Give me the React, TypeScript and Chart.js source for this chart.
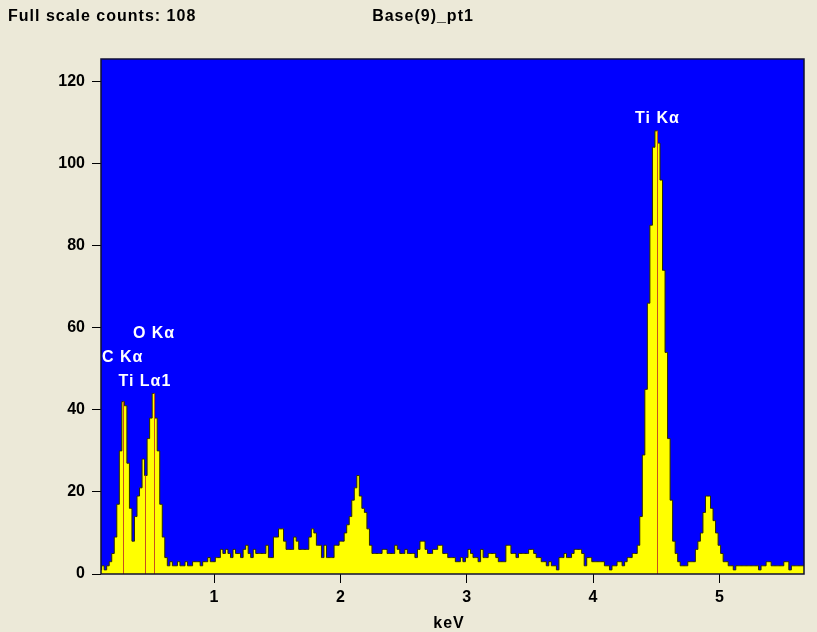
import React, { useEffect, useRef } from "react";
import { Chart, registerables } from "chart.js";

Chart.register(...registerables);

// ---- data ----
const spectrumTitle = "Base(9)_pt1";
const channelStartKeV = 0.1;
const channelWidthKeV = 0.02;
// counts per channel, 0.10 keV .. 5.68 keV
const counts = [
  1, 2, 1, 2, 3, 5, 9, 17, 30, 42, 41, 27, 16, 8, 14, 19, 21, 28, 24, 33,
  38, 44, 38, 30, 17, 9, 4, 2, 3, 2,
  2, 3, 2, 2, 3, 2, 2, 3, 3, 3, 2, 3, 3, 4, 3, 3, 4, 4, 6, 5,
  6, 5, 4, 6, 5, 5, 4, 6, 7, 5, 4, 6, 5,
  5, 5, 5, 7, 4, 4, 9, 9, 11, 11, 8, 6, 6, 6, 9, 8, 6, 6, 6, 6,
  9, 11, 10, 7, 7, 4, 7, 4, 4, 4, 7, 7,
  8, 8, 10, 12, 14, 18, 21, 24, 19, 16, 15, 11, 7, 5, 5, 5, 5, 6, 6, 5,
  5, 5, 7, 6, 5, 5, 6, 5, 5, 5, 4, 6, 8, 8, 6, 5, 5, 6, 6, 7,
  7, 5, 5, 4, 4, 4, 3, 3, 4, 3,
  4, 6, 5, 4, 4, 3, 6, 4, 4, 5, 5, 5, 4, 3, 3, 3, 7, 7, 5, 5,
  4, 5, 5, 5, 5, 6, 6, 5, 4, 4, 3, 3, 2, 3, 2, 2, 1, 4, 4, 5,
  4, 4, 5, 6, 6, 6, 5, 2, 4, 4,
  3, 3, 3, 3, 3, 2, 2, 1, 2, 2, 3, 3, 2, 3, 4, 4, 5, 5, 7, 14,
  29, 45, 66, 85, 104, 108, 105, 96, 74, 54, 33, 18, 8, 5, 3, 2, 2, 2, 3, 3,
  3, 6, 8, 10, 15, 19, 19, 16, 13, 10,
  7, 5, 3, 3, 2, 2, 1, 2, 2, 2, 2, 2, 2, 2, 2, 2, 1, 2, 2, 3,
  3, 2, 2, 2, 2, 2, 3, 3, 1, 2, 2, 2, 2, 2, 2,
];
const xTicks = [1, 2, 3, 4, 5];
const yTicks = [0, 20, 40, 60, 80, 100, 120];
const xRange = [0.105, 5.67];
const yRange = [0, 125.5];

const lineNames = ["C K\u03b1", "Ti L\u03b11", "O K\u03b1", "Ti K\u03b1"];
const lineEnergies = [0.277, 0.452, 0.525, 4.51];
const lineHeights = [42, 24, 44, 108];
const labelRows = [1, 0, 2, 0];

const FONT = "'Liberation Sans', Arial, sans-serif";
const BEIGE = "#ECE9D8";

const edsPlugin = {
  id: "eds",
  beforeDraw(chart: any) {
    const { ctx, chartArea: a, width, height } = chart;
    ctx.save();
    ctx.fillStyle = BEIGE;
    ctx.fillRect(0, 0, width, height);
    ctx.fillStyle = "#0000FF";
    ctx.fillRect(a.left, a.top, a.right - a.left, a.bottom - a.top);
    // header
    ctx.fillStyle = "#000";
    ctx.font = `bold 16px ${FONT}`;
    (ctx as any).letterSpacing = "1px";
    ctx.textBaseline = "middle";
    ctx.textAlign = "left";
    ctx.fillText("Full scale counts: " + Math.max(...counts), 8, 17);
    ctx.textAlign = "center";
    ctx.fillText(spectrumTitle, 423, 17);
    ctx.restore();
  },
  afterDatasetsDraw(chart: any) {
    const { ctx, chartArea: a, scales } = chart;
    const xs = scales.x;
    const ys = scales.y;
    ctx.save();
    // marker lines
    ctx.strokeStyle = "#C8501E";
    ctx.lineWidth = 1;
    lineEnergies.forEach((e, i) => {
      const px = Math.round(xs.getPixelForValue(e)) + 0.5;
      ctx.beginPath();
      ctx.moveTo(px, ys.getPixelForValue(0));
      ctx.lineTo(px, ys.getPixelForValue(lineHeights[i]));
      ctx.stroke();
    });
    // labels
    ctx.fillStyle = "#FFFFFF";
    ctx.font = `bold 16px ${FONT}`;
    (ctx as any).letterSpacing = "1px";
    ctx.textAlign = "center";
    ctx.textBaseline = "middle";
    lineEnergies.forEach((e, i) => {
      let base = 0;
      lineEnergies.forEach((e2, j) => {
        if (Math.abs(e2 - e) < 0.5) base = Math.max(base, lineHeights[j]);
      });
      const py = ys.getPixelForValue(base) - 12 - labelRows[i] * 24;
      ctx.fillText(lineNames[i], xs.getPixelForValue(e), py);
    });
    (ctx as any).letterSpacing = "0px";
    // border
    ctx.strokeStyle = "#101030";
    ctx.lineWidth = 1.5;
    ctx.strokeRect(a.left, a.top, a.right - a.left, a.bottom - a.top);
    ctx.restore();
  },
  afterDraw(chart: any) {
    const { ctx } = chart;
    ctx.save();
    ctx.fillStyle = "#000";
    ctx.font = `bold 16px ${FONT}`;
    (ctx as any).letterSpacing = "1px";
    ctx.textAlign = "center";
    ctx.textBaseline = "middle";
    ctx.fillText("keV", chart.scales.x.getPixelForValue(2.86), 624);
    ctx.restore();
  },
};

export default function App() {
  const ref = useRef<HTMLCanvasElement | null>(null);
  useEffect(() => {
    document.body.style.margin = "0";
    document.body.style.background = BEIGE;
    const canvas = ref.current!;
    const points = counts.map((c, i) => ({
      x: channelStartKeV + i * channelWidthKeV,
      y: c,
    }));
    const tickFont = { family: FONT, size: 16, weight: "bold" as const };
    const chart = new Chart(canvas, {
      type: "line",
      data: {
        datasets: [
          {
            data: points,
            stepped: "middle",
            fill: "origin",
            backgroundColor: "#FFFF00",
            borderColor: "#2a2a00",
            borderWidth: 1,
            pointRadius: 0,
          },
        ],
      },
      options: {
        animation: false,
        responsive: false,
        devicePixelRatio: 1,
        events: [],
        layout: { padding: { left: 0, top: 59, right: 13, bottom: 0 } },
        plugins: { legend: { display: false }, tooltip: { enabled: false } },
        scales: {
          x: {
            type: "linear",
            min: xRange[0],
            max: xRange[1],
            afterFit: (s: any) => {
              s.height = 58;
            },
            afterBuildTicks: (s: any) => {
              s.ticks = xTicks.map((v) => ({ value: v }));
            },
            grid: {
              display: true,
              drawOnChartArea: false,
              drawTicks: true,
              tickLength: 9,
              tickColor: "#000",
              color: "#000",
            },
            border: { display: false },
            ticks: {
              color: "#000",
              font: tickFont,
              padding: 5,
              maxRotation: 0,
              autoSkip: false,
              includeBounds: false,
            },
          },
          y: {
            type: "linear",
            min: yRange[0],
            max: yRange[1],
            afterFit: (s: any) => {
              s.width = 101;
            },
            afterBuildTicks: (s: any) => {
              s.ticks = yTicks.map((v) => ({ value: v }));
            },
            grid: {
              display: true,
              drawOnChartArea: false,
              drawTicks: true,
              tickLength: 9,
              tickColor: "#000",
              color: "#000",
            },
            border: { display: false },
            ticks: {
              color: "#000",
              font: tickFont,
              padding: 7,
              autoSkip: false,
              includeBounds: false,
            },
          },
        },
      },
      plugins: [edsPlugin],
    });
    return () => chart.destroy();
  }, []);
  return (
    <canvas
      ref={ref}
      width={817}
      height={632}
      style={{ display: "block", width: 817, height: 632 }}
    />
  );
}
